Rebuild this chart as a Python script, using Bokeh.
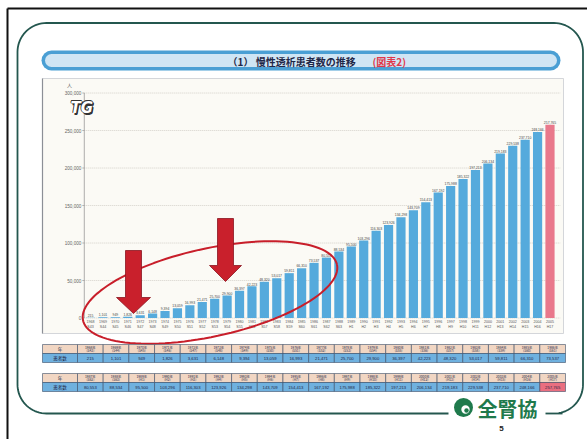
import numpy as np
from bokeh.plotting import figure
from bokeh.models import Range1d
from bokeh.embed import file_html
from bokeh.resources import INLINE
from bokeh.core.properties import value

# ---------------- data ----------------
years = list(range(1968, 2006))
patients = [215, 1101, 949, 1826, 3631, 6148, 9394, 13059, 16993, 21471,
            25700, 29900, 36397, 42223, 48320, 53017, 59811, 66310, 73537, 80553,
            88534, 95500, 103296, 116303, 123926, 134298, 143709, 154413, 167192, 175988,
            185322, 197213, 206134, 219183, 229538, 237710, 248166, 257765]
era_labels = ["S43", "S44", "S45", "S46", "S47", "S48", "S49", "S50", "S51", "S52",
              "S53", "S54", "S55", "S56", "S57", "S58", "S59", "S60", "S61", "S62",
              "S63", "H1", "H2", "H3", "H4", "H5", "H6", "H7", "H8", "H9",
              "H10", "H11", "H12", "H13", "H14", "H15", "H16", "H17"]
y_ticks = [0, 50000, 100000, 150000, 200000, 250000, 300000]
y_tick_labels = ["0", "50,000", "100,000", "150,000", "200,000", "250,000", "300,000"]
title_main = "（1） 慢性透析患者数の推移"
title_ref = "(図表2)"
unit_label = "人"
row_head = "年"
row_value = "患者数"
org_name = "全腎協"
page_no = "5"

# ---------------- layout ----------------
W, H = 587, 439
M = 0
def cx(x):
    return x - M
def cy(y):
    return y - M

N = len(years)
PL, PR = cx(83.8), cx(555.7)          # canvas x of bar index -0.5 / N-0.5
step = (PR - PL) / N
bx_start = -0.5 - PL / step
bx_end = bx_start + W / step
Y0, YT = cy(317.5), cy(92.5)           # canvas y of 0 / 300000
ys = (Y0 - YT) / 300000.0
by_start = -(H - Y0) / ys
by_end = Y0 / ys

JP = value("Noto Sans CJK JP")
NUM = value("Liberation Sans")

p = figure(width=W, height=H, x_range=Range1d(0, W), y_range=Range1d(H, 0),
           x_axis_type=None, y_axis_type=None, output_backend="svg",
           toolbar_location=None, min_border=0)
p.grid.visible = False
p.outline_line_color = None
p.background_fill_color = "white"
p.border_fill_color = "white"
p.extra_x_ranges = {"bx": Range1d(bx_start, bx_end)}
p.extra_y_ranges = {"by": Range1d(by_start, by_end)}

# outer black frame (scan edge)
p.line(x=[cx(7), cx(7)], y=[cy(8), H], line_color="#111111", line_width=2)
p.line(x=[cx(7), W], y=[cy(8), cy(8)], line_color="#111111", line_width=2)

# rounded teal frame
def rrect(l, t, r, b, rad):
    xs, yv = [], []
    for (ccx, ccy, a0, a1) in [(l + rad, t + rad, 180, 270), (r - rad, t + rad, 270, 360),
                               (r - rad, b - rad, 0, 90), (l + rad, b - rad, 90, 180)]:
        a = np.radians(np.linspace(a0, a1, 20))
        xs += list(ccx + rad * np.cos(a))
        yv += list(ccy + rad * np.sin(a))
    xs.append(xs[0]); yv.append(yv[0])
    return xs, yv
fx, fy = rrect(cx(17), cy(22.5), cx(582.5), cy(413), 29)
p.line(x=fx, y=fy, line_color="#24574f", line_width=1.8)

# title pill
p.line(x=[cx(51), cx(550)], y=[cy(60), cy(60)], line_width=20, line_cap="round", line_color="#4a9fd4")
p.line(x=[cx(51), cx(550)], y=[cy(60), cy(60)], line_width=13, line_cap="round", line_color="#cfe5f4")
p.text(x=[cx(227)], y=[cy(60.5)], text=[title_main], text_font=JP, text_font_size="10px",
       text_font_style="bold", text_color="#1f2747", text_align="left", text_baseline="middle")
p.text(x=[cx(372)], y=[cy(60.5)], text=[title_ref], text_font=JP, text_font_size="10px",
       text_font_style="bold", text_color="#e0384a", text_align="left", text_baseline="middle")

# chart box
p.quad(left=[cx(42)], right=[cx(563)], top=[cy(78)], bottom=[cy(333)],
       fill_color="#fbfaf5", line_color="#c9ccd2", line_width=0.8)
p.line(x=[cx(42), cx(42)], y=[cy(78), cy(333)], line_color="#8c8f96", line_width=1.2)

# gridlines + y axis (value space)
p.segment(x0=[PL] * len(y_ticks), x1=[cx(560)] * len(y_ticks), y0=y_ticks, y1=y_ticks,
          y_range_name="by", line_color="#c4c1b8", line_width=0.7, line_dash="1 1")
p.segment(x0=[PL], x1=[PL], y0=[0], y1=[300000], y_range_name="by", line_color="#9a9a9a", line_width=0.8)
p.segment(x0=[PL - 2] * len(y_ticks), x1=[PL] * len(y_ticks), y0=y_ticks, y1=y_ticks,
          y_range_name="by", line_color="#9a9a9a", line_width=0.7)
p.text(x=[PL - 3] * len(y_ticks), y=y_ticks, text=y_tick_labels, y_range_name="by",
       text_font=NUM, text_font_size="4.6px", text_color="#666666",
       text_align="right", text_baseline="middle")
p.text(x=[cx(69)], y=[cy(84)], text=[unit_label], text_font=JP, text_font_size="5px",
       text_color="#666666", text_align="center", text_baseline="middle")

# TG logo (outlined)
for dx, dy in [(1.6, 1.6), (1.2, 2.0), (-0.7, 0), (0.7, 0), (0, -0.7), (0, 0.7), (-0.5, -0.5), (0.5, 0.5)]:
    p.text(x=[cx(70) + dx], y=[cy(107) + dy], text=["TG"], text_font=value("DejaVu Sans"),
           text_font_size="15px", text_font_style="bold italic", text_color="#333333",
           text_align="left", text_baseline="middle")
p.text(x=[cx(70)], y=[cy(107)], text=["TG"], text_font=value("DejaVu Sans"), text_font_size="15px",
       text_font_style="bold italic", text_color="#ffffff", text_align="left", text_baseline="middle")

# bars
idx = list(range(N))
colors = ["#55aadc"] * (N - 1) + ["#e9788b"]
p.vbar(x=idx, top=patients, bottom=0, width=0.74, x_range_name="bx", y_range_name="by",
       fill_color=colors, line_color=None)
p.text(x=idx, y=patients, text=[f"{v:,}" for v in patients], x_range_name="bx", y_range_name="by",
       text_font=NUM, text_font_size="3.4px", text_color="#444444", text_align="center",
       text_baseline="bottom", y_offset=-0.8)
p.text(x=idx, y=[-2.2 / ys] * N, text=[str(y) for y in years], x_range_name="bx", y_range_name="by",
       text_font=NUM, text_font_size="3.6px", text_color="#555555", text_align="center",
       text_baseline="top")
p.text(x=idx, y=[-7.2 / ys] * N, text=era_labels, x_range_name="bx", y_range_name="by",
       text_font=NUM, text_font_size="3.6px", text_color="#555555", text_align="center",
       text_baseline="top")

# red ellipse
t = np.linspace(0, 2 * np.pi, 120)
a, b, th = 130.0, 44.0, np.radians(12.4)
ex_ = cx(209.5) + a * np.cos(t) * np.cos(th) + b * np.sin(t) * np.sin(th)
ey_ = cy(292) - a * np.cos(t) * np.sin(th) + b * np.sin(t) * np.cos(th)
p.line(x=list(ex_), y=list(ey_), line_color="#c81e2a", line_width=2)

# red arrows
def arrow(xc, top, hs, tip, sw, hw):
    xs = [xc - sw, xc + sw, xc + sw, xc + hw, xc, xc - hw, xc - sw]
    yv = [top, top, hs, hs, tip, hs, hs]
    return [cx(v) for v in xs], [cy(v) for v in yv]
a1x, a1y = arrow(133, 250, 297, 313, 8, 17)
a2x, a2y = arrow(225, 218, 265, 281, 8, 16)
p.patches(xs=[a1x, a2x], ys=[a1y, a2y], fill_color="#c9202c", line_color="#8a1420", line_width=0.8)

# tables
TL, TC, TR = cx(42), cx(77), cx(565)
cw = (TR - TC) / 19.0
for k, (r0, r1, r2) in enumerate([(344, 353, 362), (373, 382, 391)]):
    r0, r1, r2 = cy(r0), cy(r1), cy(r2)
    yrs = years[k * 19:(k + 1) * 19]
    vals = patients[k * 19:(k + 1) * 19]
    eras = era_labels[k * 19:(k + 1) * 19]
    lefts = [TL] + [TC + i * cw for i in range(19)]
    rights = [TC] + [TC + (i + 1) * cw for i in range(19)]
    vfill = ["#6fb1df"] * 20
    if k == 1:
        vfill[-1] = "#ea6f80"
    p.quad(left=lefts, right=rights, top=[r0] * 20, bottom=[r1] * 20,
           fill_color="#f1d6c3", line_color="#3d4d66", line_width=0.6)
    p.quad(left=lefts, right=rights, top=[r1] * 20, bottom=[r2] * 20,
           fill_color=vfill, line_color="#3d4d66", line_width=0.6)
    mids = [(l + r) / 2 for l, r in zip(lefts, rights)]
    p.text(x=[mids[0]], y=[(r0 + r1) / 2], text=[row_head], text_font=JP, text_font_size="4.5px",
           text_color="#1f2747", text_align="center", text_baseline="middle")
    p.text(x=[mids[0]], y=[(r1 + r2) / 2], text=[row_value], text_font=JP, text_font_size="4.5px",
           text_color="#1f2747", text_align="center", text_baseline="middle")
    p.text(x=mids[1:], y=[r0 + 2.9] * 19, text=[f"{y}年" for y in yrs], text_font=JP,
           text_font_size="3.3px", text_color="#1f2747", text_align="center", text_baseline="middle")
    p.text(x=mids[1:], y=[r0 + 6.4] * 19, text=[f"({e})" for e in eras], text_font=JP,
           text_font_size="3.3px", text_color="#1f2747", text_align="center", text_baseline="middle")
    p.text(x=mids[1:], y=[(r1 + r2) / 2] * 19, text=[f"{v:,}" for v in vals], text_font=NUM,
           text_font_size="4.2px", text_color="#1f2747", text_align="center", text_baseline="middle")

# logo
p.quad(left=[cx(448)], right=[cx(558)], top=[cy(397)], bottom=[cy(421)], fill_color="white", line_color=None)
p.line(x=[cx(545), cx(562)], y=[cy(413), cy(413)], line_color="#24574f", line_width=1.8)
p.circle(x=[cx(463)], y=[cy(407)], radius=9.5, fill_color="#1f7a4c", line_color=None)
p.circle(x=[cx(465)], y=[cy(409)], radius=4.2, fill_color="white", line_color=None)
p.circle(x=[cx(466)], y=[cy(410)], radius=2.2, fill_color="#1f7a4c", line_color=None)
p.text(x=[cx(477)], y=[cy(408)], text=[org_name], text_font=JP, text_font_size="20px",
       text_font_style="bold", text_color="#1f7a4c", text_align="left", text_baseline="middle")
p.text(x=[cx(501)], y=[cy(428)], text=[page_no], text_font=NUM, text_font_size="8px",
       text_font_style="bold", text_color="#222222", text_align="center", text_baseline="middle")

open("out.html", "w").write(file_html(p, INLINE))
